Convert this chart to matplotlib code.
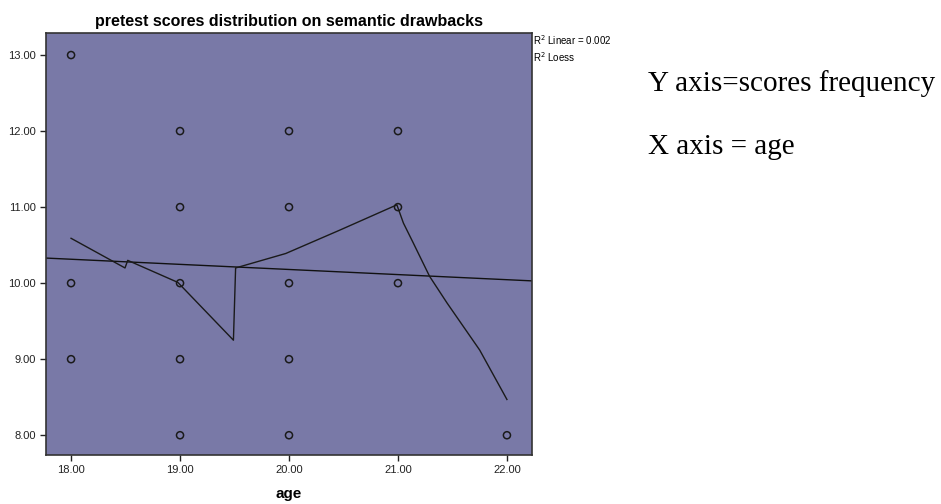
import matplotlib
matplotlib.use('Agg')
import matplotlib.pyplot as plt

plt.rcParams['font.family'] = ['Liberation Sans', 'DejaVu Sans']

# scatter data: age vs score
ages = [18, 18, 18,
        19, 19, 19, 19, 19,
        20, 20, 20, 20, 20,
        21, 21, 21,
        22]
scores = [13, 10, 9,
          12, 11, 10, 9, 8,
          12, 11, 10, 9, 8,
          12, 11, 10,
          8]

# linear fit line endpoints
lin_x = [17.77, 22.23]
lin_y = [10.33, 10.03]

# loess curve
loess_x = [18.0, 18.495, 18.52, 18.98, 19.49, 19.51, 19.97, 20.47, 20.99,
           21.05, 21.14, 21.29, 21.45, 21.75, 22.0]
loess_y = [10.59, 10.20, 10.30, 10.01, 9.25, 10.20, 10.39, 10.70, 11.03,
           10.79, 10.53, 10.09, 9.74, 9.12, 8.47]

xticks = [18, 19, 20, 21, 22]
yticks = [8, 9, 10, 11, 12, 13]

fig = plt.figure(figsize=(9.41, 5.04), dpi=100)
ax = fig.add_axes([46 / 941, 1 - 455 / 504, (532 - 46) / 941, (455 - 33) / 504])
ax.set_facecolor('#7979a7')

ax.scatter(ages, scores, s=26, facecolors='none', edgecolors='#1a1a1a', linewidths=1.1, zorder=3)
ax.plot(lin_x, lin_y, color='#111111', lw=1.0)
ax.plot(loess_x, loess_y, color='#1a1a1a', lw=1.0)

ax.set_xlim(17.77, 22.23)
ax.set_ylim(7.74, 13.29)
ax.set_xticks(xticks)
ax.set_xticklabels(['%.2f' % v for v in xticks])
ax.set_yticks(yticks)
ax.set_yticklabels(['%.2f' % v for v in yticks])
ax.tick_params(labelsize=8, length=4, width=1, color='#222222', labelcolor='#222222')
for s in ax.spines.values():
    s.set_color('#333333')
    s.set_linewidth(1.2)

ax.set_title('pretest scores distribution on semantic drawbacks', fontsize=11.5, fontweight='bold', pad=5)
ax.set_xlabel('age', fontsize=11, fontweight='bold', labelpad=8)

fig.text(533 / 941, 1 - 40 / 504, 'R$^2$ Linear = 0.002', fontsize=7, va='center', ha='left')
fig.text(533 / 941, 1 - 57 / 504, 'R$^2$ Loess', fontsize=7, va='center', ha='left')

fig.text(648 / 941, 1 - 91 / 504, 'Y axis=scores frequency', fontsize=21,
         family='Liberation Serif', va='baseline')
fig.text(648 / 941, 1 - 154 / 504, 'X axis = age', fontsize=21,
         family='Liberation Serif', va='baseline')

fig.savefig('out.png', dpi=100)
